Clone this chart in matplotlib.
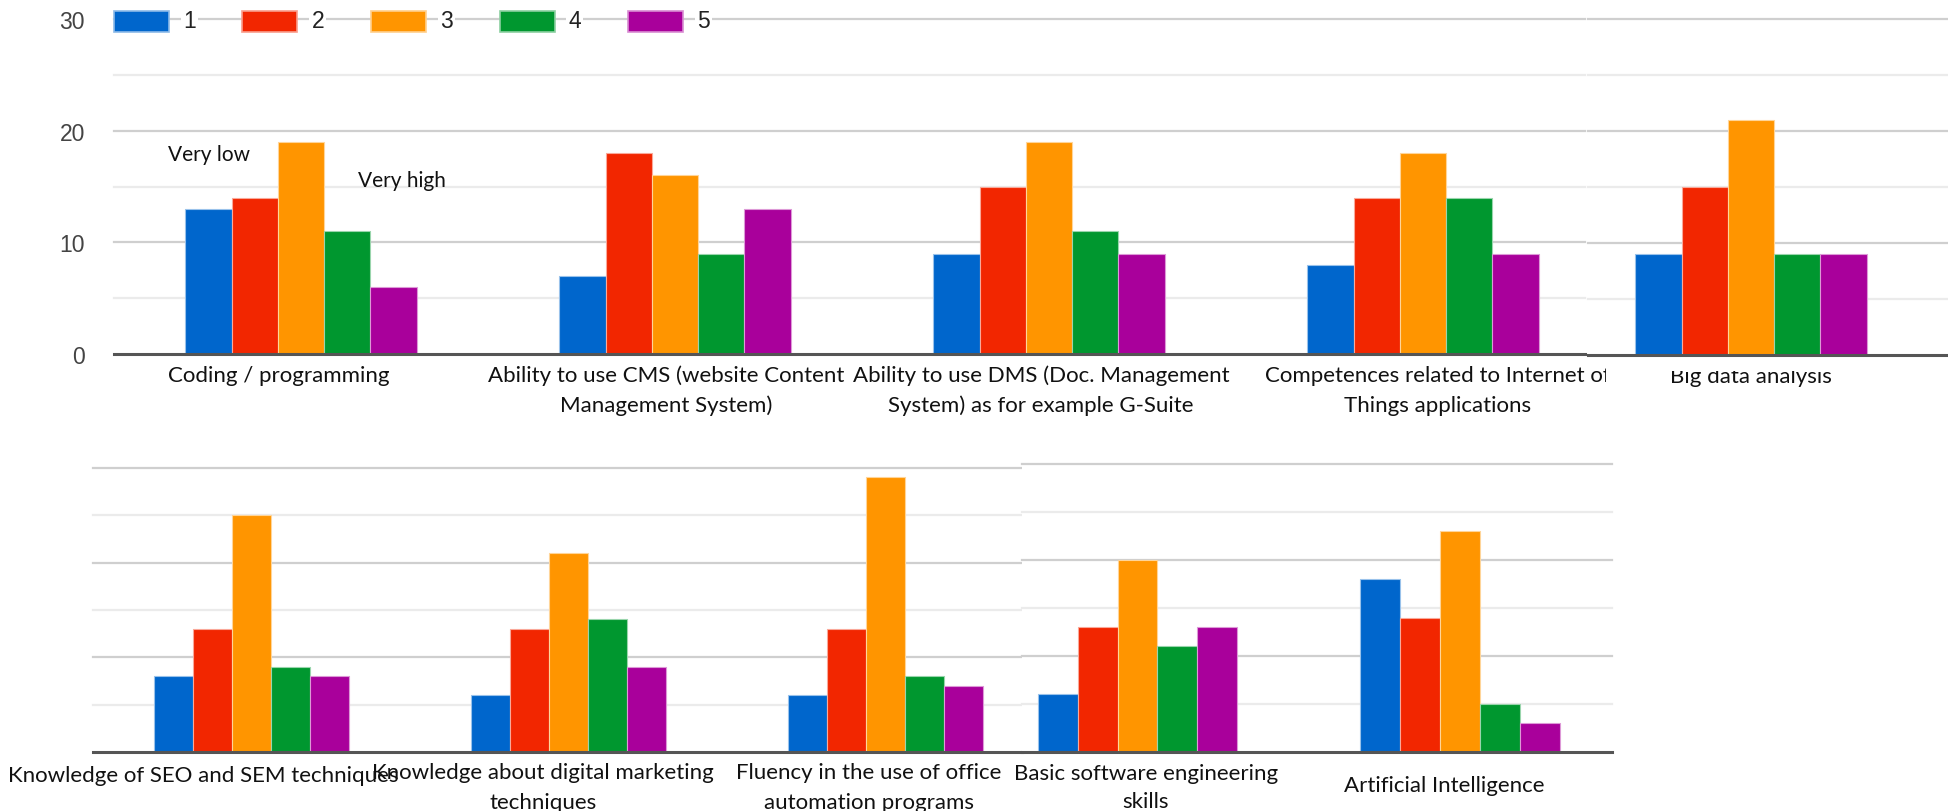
import numpy as np
import matplotlib.pyplot as plt
from matplotlib.patches import Rectangle
from matplotlib.transforms import Bbox
from matplotlib.colors import to_rgb

W, H = 1949, 812

levels = ["1", "2", "3", "4", "5"]
colors = ["#0066cc", "#f22600", "#ff9500", "#00972f", "#a9009b"]

# upper row, main chart
skills_top = ["Coding / programming",
              "Ability to use CMS (website Content\nManagement System)",
              "Ability to use DMS (Doc. Management\nSystem) as for example G-Suite",
              "Competences related to Internet of\nThings applications"]
counts_top = [[13, 14, 19, 11, 6],
              [7, 18, 16, 9, 13],
              [9, 15, 19, 11, 9],
              [8, 14, 18, 14, 9]]

# upper row, pasted chart on the right
skills_big = ["Big data analysis"]
counts_big = [[9, 15, 21, 9, 9]]

# lower row, left chart
skills_low = ["Knowledge of SEO and SEM techniques",
              "Knowledge about digital marketing\ntechniques",
              "Fluency in the use of office\nautomation programs"]
counts_low = [[8, 13, 25, 9, 8],
              [6, 13, 21, 14, 9],
              [6, 13, 29, 8, 7]]

# lower row, right chart
skills_low2 = ["Basic software engineering\nskills", "Artificial Intelligence"]
counts_low2 = [[6, 13, 20, 11, 13],
               [18, 14, 23, 5, 3]]

y_ticks = [0, 10, 20, 30]

LABEL_FONT = ["Lato", "DejaVu Sans"]
AXIS_FONT = ["Liberation Sans", "DejaVu Sans"]

fig = plt.figure(figsize=(W / 100, H / 100), dpi=100)
fig.patch.set_facecolor("white")


def axes_px(left, top, right, bottom):
    # pixel box measured from the top-left corner
    return fig.add_axes([left / W, 1 - bottom / H, (right - left) / W, (bottom - top) / H])


def lighten(c, f=0.45):
    r, g, b = to_rgb(c)
    return (r + (1 - r) * f, g + (1 - g) * f, b + (1 - b) * f)


def draw_panel(ax, counts, xlim):
    n = len(counts)
    x = np.arange(n)
    bw = 0.618 / len(levels)
    for v in range(5, 31, 5):
        ax.axhline(v, color="#cfcfcf" if v % 10 == 0 else "#ebebeb",
                   lw=1.6, zorder=0, clip_on=False)
    for j, lev in enumerate(levels):
        vals = [row[j] for row in counts]
        ax.bar(x + (j - 2) * bw, vals, bw, color=colors[j],
               edgecolor=lighten(colors[j], 0.6), linewidth=0.8, zorder=2)
    ax.axhline(0, color="#555555", lw=2.2, zorder=3, clip_on=False)
    ax.set_xlim(*xlim)
    ax.set_ylim(0, 30)
    ax.set_xticks([])
    ax.set_yticks([])
    for s in ax.spines.values():
        s.set_visible(False)


def label(x, y, txt, clip=None, step=30, size=16):
    # one text per line, y is the baseline of the first line (pixels from top)
    for i, line in enumerate(txt.split("\n")):
        t = fig.text(x / W, 1 - (y + i * step) / H, line, ha="center",
                     va="baseline", fontsize=size, family=LABEL_FONT, color="#111111")
        if clip is not None:
            t.set_clip_box(Bbox.from_extents(*clip))
            t.set_clip_on(True)


# upper main chart
ax_a = axes_px(114, 20, 1585, 355)
draw_panel(ax_a, counts_top, (-0.5, -0.5 + (1585 - 114) / 374))
ax_a.set_yticks(y_ticks)
ax_a.set_yticklabels([str(v) for v in y_ticks], fontsize=16.5,
                     family=AXIS_FONT, color="#444444")
ax_a.tick_params(axis="y", length=0, pad=21)

# legend sitting on the top gridline
for j, lev in enumerate(levels):
    x0 = 114 + j * 128.5
    fig.patches.append(Rectangle((x0 / W, 1 - 33 / H), 55 / W, 21 / H,
                                 transform=fig.transFigure, facecolor=colors[j],
                                 edgecolor=lighten(colors[j], 0.55), lw=1.2, zorder=5))
    fig.text((x0 + 69) / W, 1 - 22 / H, lev, ha="left", va="center",
             fontsize=16.5, family=AXIS_FONT, color="#222222", zorder=6,
             bbox=dict(facecolor="white", edgecolor="none", pad=1.5))

# pasted big-data chart
ax_b = axes_px(1588, 20, W, 356)
draw_panel(ax_b, counts_big, (-163 / 374, 198 / 374))

# lower charts
ax_c = axes_px(93, 469, 1022, 753)
draw_panel(ax_c, counts_low, (-0.5, -0.5 + (1022 - 93) / 317))
ax_d = axes_px(1022, 465, 1612, 753)
draw_panel(ax_d, counts_low2, (-115.5 / 322.5, 474.5 / 322.5))

# category labels
label(279, 382, skills_top[0])
label(666, 382, skills_top[1])
label(1041, 382, skills_top[2])
label(1438, 382, skills_top[3], clip=(0, 0, 1606, H))
label(1751, 383, skills_big[0], clip=(0, 0, W, H - 372))

label(203, 782, skills_low[0])
label(543, 779, skills_low[1])
label(869, 779, skills_low[2])
label(1146, 780, skills_low2[0], step=28)
label(1444, 792, skills_low2[1])

fig.text(168 / W, 1 - 161 / H, "Very low", ha="left", va="baseline",
         fontsize=15, family=LABEL_FONT, color="#111111")
fig.text(358 / W, 1 - 187 / H, "Very high", ha="left", va="baseline",
         fontsize=15, family=LABEL_FONT, color="#111111")

fig.savefig("out.png", dpi=100)
